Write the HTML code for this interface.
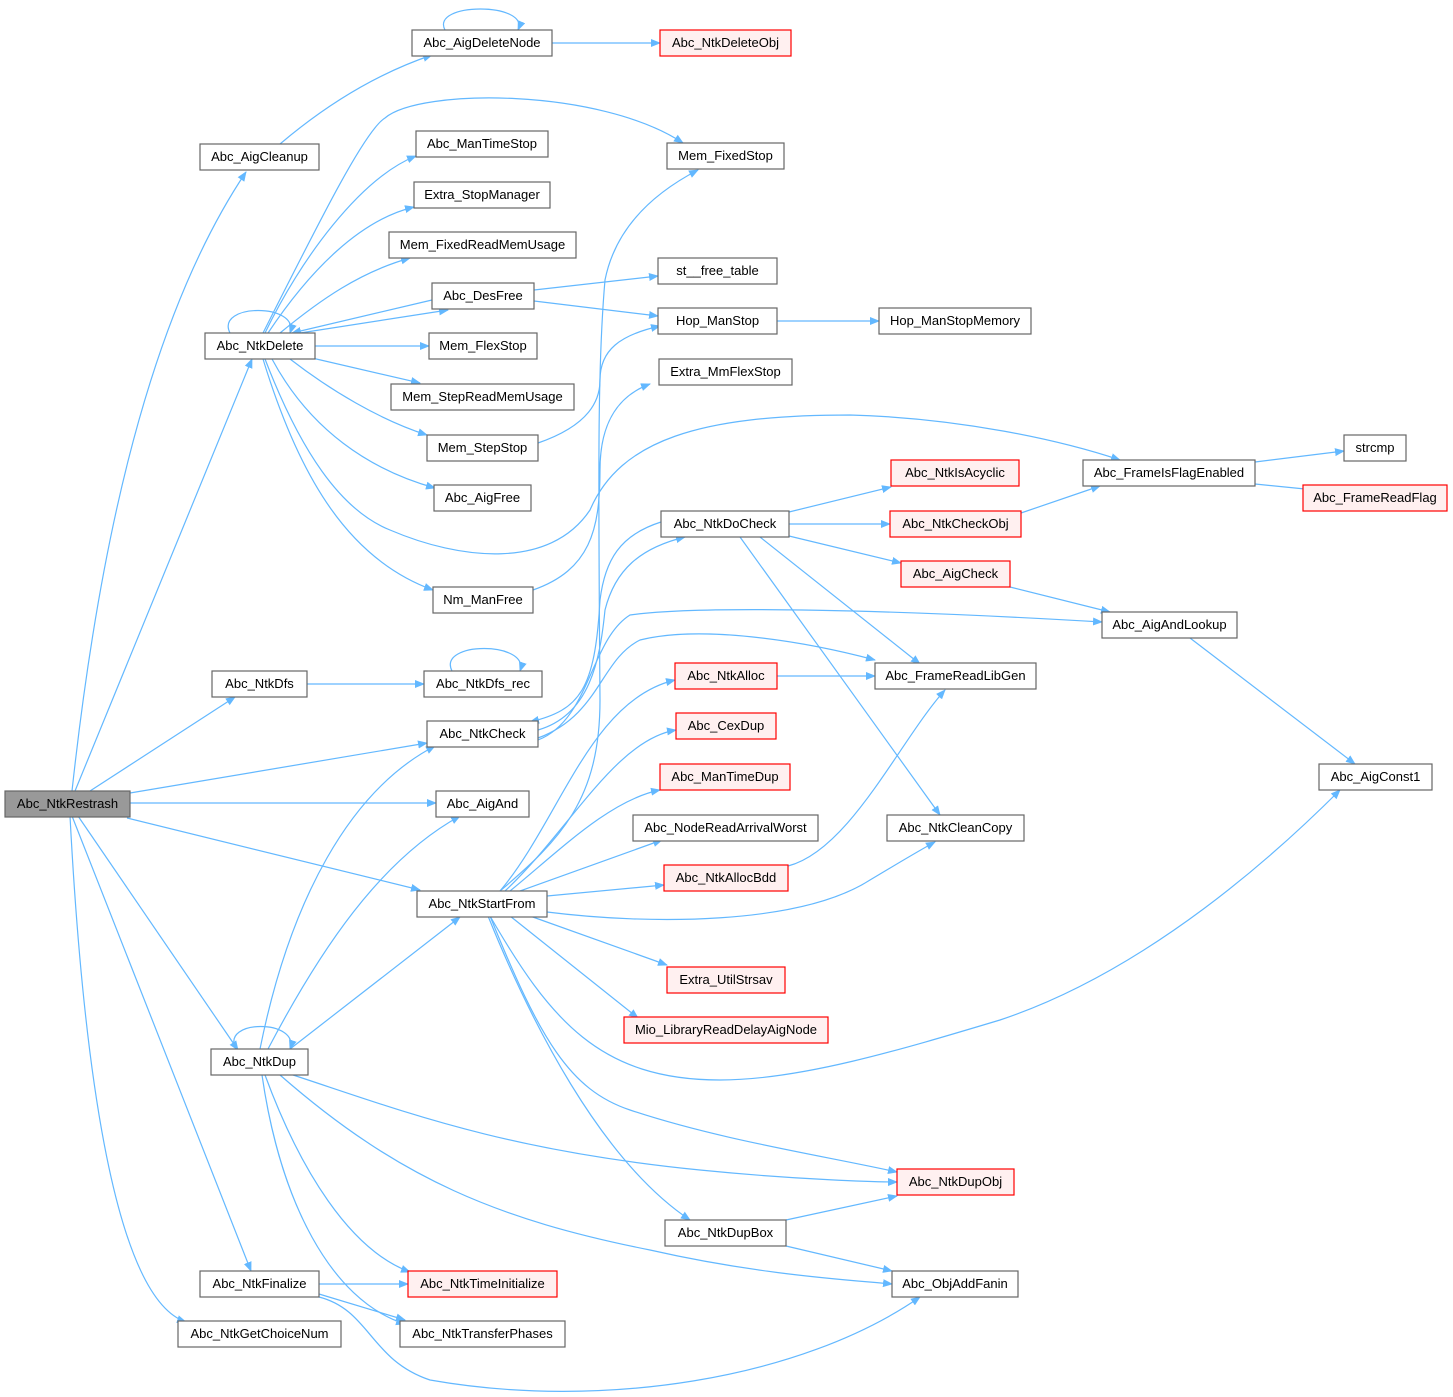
<!DOCTYPE html>
<html><head><meta charset="utf-8"><style>
html,body{margin:0;padding:0;background:#fff;}
svg{display:block;}
text{font-family:"Liberation Sans",Arial,sans-serif;font-size:13px;fill:#000;text-anchor:middle;}
.e{fill:none;stroke:#63b8ff;stroke-width:1.2;}
.n rect{fill:#fff;stroke:#666;stroke-width:1.2;}
.r rect{fill:#fff0f0;stroke:#ff0000;stroke-width:1.2;}
</style></head><body>
<svg width="1453" height="1397" viewBox="0 0 1453 1397" xmlns="http://www.w3.org/2000/svg">
<defs><marker id="a" viewBox="0 0 10 10" refX="9" refY="5" markerWidth="10" markerHeight="10" markerUnits="userSpaceOnUse" orient="auto"><path d="M0,1 L10,5 L0,9 z" fill="#63b8ff"/></marker></defs>
<g marker-end="url(#a)">
<!-- Restrash -->
<path class="e" d="M72,791 C95,580 140,330 246,172"/>
<path class="e" d="M75,791 L252,359"/>
<path class="e" d="M90,791 L235,697"/>
<path class="e" d="M130,793 L427,743"/>
<path class="e" d="M130,803 L436,803"/>
<path class="e" d="M127,818 L420,890"/>
<path class="e" d="M78,816 L238,1050"/>
<path class="e" d="M72,816 L251,1271"/>
<path class="e" d="M70,816 C85,1100 120,1300 186,1322"/>
<!-- AigCleanup / DeleteNode -->
<path class="e" d="M280,144 C320,110 370,76 432,55"/>
<path class="e" d="M445,30 C430,2 530,2 518,30"/>
<path class="e" d="M552,43 L660,43"/>
<!-- NtkDelete -->
<path class="e" d="M265,333 C300,260 360,178 416,156"/>
<path class="e" d="M268,333 C310,270 360,220 414,207"/>
<path class="e" d="M280,333 C320,300 360,272 410,258"/>
<path class="e" d="M300,333 L448,310"/>
<path class="e" d="M432,300 L292,333"/>
<path class="e" d="M263,333 C320,220 365,130 385,118 C420,88 600,88 683,143"/>
<path class="e" d="M230,333 C215,303 300,303 290,333"/>
<path class="e" d="M315,346 L429,346"/>
<path class="e" d="M312,358 L420,383"/>
<path class="e" d="M290,359 C330,390 380,420 427,435"/>
<path class="e" d="M272,359 C310,430 370,470 435,488"/>
<path class="e" d="M265,359 C300,450 340,510 390,530 C460,560 550,570 590,510 C620,440 700,415 850,415 C960,418 1060,440 1120,460"/>
<path class="e" d="M263,359 C300,480 350,560 433,590"/>
<!-- middle -->
<path class="e" d="M538,443 C590,425 600,400 600,380 C600,350 620,335 660,326"/>
<path class="e" d="M533,590 C590,570 600,530 600,470 C600,420 620,395 650,384"/>
<path class="e" d="M500,891 C560,840 600,800 600,700 C598,450 598,360 605,280 C615,230 650,195 698,170"/>
<path class="e" d="M534,290 L658,276"/>
<path class="e" d="M534,301 L658,316"/>
<path class="e" d="M777,321 L879,321"/>
<path class="e" d="M307,684 L424,684"/>
<path class="e" d="M452,671 C437,641 530,641 520,671"/>
<!-- NtkCheck -->
<path class="e" d="M661,522 C620,535 605,560 600,600 C595,690 580,710 530,722"/>
<path class="e" d="M538,730 C590,715 600,660 605,610 C615,570 640,548 685,537"/>
<path class="e" d="M538,740 C590,720 590,640 630,615 C700,605 900,610 1102,622"/>
<path class="e" d="M538,738 C600,715 600,660 640,640 C700,625 800,640 875,660"/>
<!-- StartFrom -->
<path class="e" d="M500,891 C560,820 590,700 675,680"/>
<path class="e" d="M505,891 C570,830 615,740 676,730"/>
<path class="e" d="M510,891 C560,850 610,800 660,790"/>
<path class="e" d="M520,891 L662,840"/>
<path class="e" d="M547,896 L664,885"/>
<path class="e" d="M547,912 C650,925 800,925 870,880 C900,862 920,850 935,842"/>
<path class="e" d="M530,916 L667,965"/>
<path class="e" d="M510,916 L638,1018"/>
<path class="e" d="M490,916 C550,1020 600,1080 720,1080 C800,1080 900,1050 1000,1020 C1150,970 1280,850 1340,790"/>
<path class="e" d="M490,916 C540,1040 570,1090 630,1110 C720,1140 820,1155 897,1172"/>
<path class="e" d="M488,916 C530,1020 600,1160 690,1220"/>
<path class="e" d="M786,1220 L897,1196"/>
<path class="e" d="M786,1246 L892,1271"/>
<!-- DoCheck -->
<path class="e" d="M789,512 L891,487"/>
<path class="e" d="M789,524 L890,524"/>
<path class="e" d="M789,536 L901,563"/>
<path class="e" d="M760,537 L920,664"/>
<path class="e" d="M740,537 L940,815"/>
<path class="e" d="M1021,513 L1100,486"/>
<path class="e" d="M1255,462 L1344,451"/>
<path class="e" d="M1255,484 L1315,490"/>
<path class="e" d="M1010,587 L1110,612"/>
<path class="e" d="M1190,638 L1355,764"/>
<path class="e" d="M777,676 L875,676"/>
<path class="e" d="M788,866 C850,850 900,740 945,690"/>
<!-- NtkDup -->
<path class="e" d="M236,1049 C220,1019 300,1019 290,1049"/>
<path class="e" d="M260,1049 C290,900 350,790 435,746"/>
<path class="e" d="M268,1049 C320,950 380,860 460,816"/>
<path class="e" d="M290,1049 L460,917"/>
<path class="e" d="M290,1074 C400,1110 500,1150 700,1170 C800,1180 880,1182 897,1182"/>
<path class="e" d="M280,1075 C400,1180 500,1220 650,1250 C760,1275 850,1280 892,1284"/>
<path class="e" d="M265,1075 C300,1170 350,1250 410,1272"/>
<path class="e" d="M262,1075 C280,1200 330,1300 405,1324"/>
<path class="e" d="M319,1284 L408,1284"/>
<path class="e" d="M319,1294 L405,1320"/>
<path class="e" d="M319,1297 C370,1310 370,1360 430,1380 C600,1410 800,1380 920,1297"/>
</g>
<g class="n"><rect x="5" y="791" width="125" height="26" style="fill:#999"/><text x="67.5" y="808">Abc_NtkRestrash</text></g>
<g class="n"><rect x="412" y="30" width="140" height="26"/><text x="482" y="47">Abc_AigDeleteNode</text></g>
<g class="r"><rect x="660" y="30" width="131" height="26"/><text x="725.5" y="47">Abc_NtkDeleteObj</text></g>
<g class="n"><rect x="200" y="144" width="119" height="26"/><text x="259.5" y="161">Abc_AigCleanup</text></g>
<g class="n"><rect x="416" y="131" width="132" height="26"/><text x="482" y="148">Abc_ManTimeStop</text></g>
<g class="n"><rect x="667" y="143" width="117" height="26"/><text x="725.5" y="160">Mem_FixedStop</text></g>
<g class="n"><rect x="414" y="182" width="136" height="26"/><text x="482" y="199">Extra_StopManager</text></g>
<g class="n"><rect x="389" y="232" width="187" height="26"/><text x="482.5" y="249">Mem_FixedReadMemUsage</text></g>
<g class="n"><rect x="658" y="258" width="119" height="26"/><text x="717.5" y="275">st__free_table</text></g>
<g class="n"><rect x="432" y="283" width="102" height="26"/><text x="483" y="300">Abc_DesFree</text></g>
<g class="n"><rect x="658" y="308" width="119" height="26"/><text x="717.5" y="325">Hop_ManStop</text></g>
<g class="n"><rect x="879" y="308" width="152" height="26"/><text x="955" y="325">Hop_ManStopMemory</text></g>
<g class="n"><rect x="205" y="333" width="110" height="26"/><text x="260" y="350">Abc_NtkDelete</text></g>
<g class="n"><rect x="429" y="333" width="108" height="26"/><text x="483" y="350">Mem_FlexStop</text></g>
<g class="n"><rect x="659" y="359" width="133" height="26"/><text x="725.5" y="376">Extra_MmFlexStop</text></g>
<g class="n"><rect x="391" y="384" width="183" height="26"/><text x="482.5" y="401">Mem_StepReadMemUsage</text></g>
<g class="n"><rect x="427" y="435" width="111" height="26"/><text x="482.5" y="452">Mem_StepStop</text></g>
<g class="n"><rect x="1344" y="435" width="62" height="26"/><text x="1375" y="452">strcmp</text></g>
<g class="n"><rect x="1083" y="460" width="172" height="26"/><text x="1169" y="477">Abc_FrameIsFlagEnabled</text></g>
<g class="r"><rect x="891" y="460" width="128" height="26"/><text x="955" y="477">Abc_NtkIsAcyclic</text></g>
<g class="r"><rect x="1303" y="485" width="144" height="26"/><text x="1375" y="502">Abc_FrameReadFlag</text></g>
<g class="n"><rect x="434" y="485" width="97" height="26"/><text x="482.5" y="502">Abc_AigFree</text></g>
<g class="n"><rect x="661" y="511" width="128" height="26"/><text x="725" y="528">Abc_NtkDoCheck</text></g>
<g class="r"><rect x="890" y="511" width="131" height="26"/><text x="955.5" y="528">Abc_NtkCheckObj</text></g>
<g class="r"><rect x="901" y="561" width="109" height="26"/><text x="955.5" y="578">Abc_AigCheck</text></g>
<g class="n"><rect x="433" y="587" width="100" height="26"/><text x="483" y="604">Nm_ManFree</text></g>
<g class="n"><rect x="1102" y="612" width="135" height="26"/><text x="1169.5" y="629">Abc_AigAndLookup</text></g>
<g class="n"><rect x="212" y="671" width="95" height="26"/><text x="259.5" y="688">Abc_NtkDfs</text></g>
<g class="n"><rect x="424" y="671" width="118" height="26"/><text x="483" y="688">Abc_NtkDfs_rec</text></g>
<g class="r"><rect x="675" y="663" width="102" height="26"/><text x="726" y="680">Abc_NtkAlloc</text></g>
<g class="n"><rect x="875" y="663" width="161" height="26"/><text x="955.5" y="680">Abc_FrameReadLibGen</text></g>
<g class="n"><rect x="427" y="721" width="111" height="26"/><text x="482.5" y="738">Abc_NtkCheck</text></g>
<g class="r"><rect x="676" y="713" width="100" height="26"/><text x="726" y="730">Abc_CexDup</text></g>
<g class="r"><rect x="660" y="764" width="130" height="26"/><text x="725" y="781">Abc_ManTimeDup</text></g>
<g class="n"><rect x="1319" y="764" width="113" height="26"/><text x="1375.5" y="781">Abc_AigConst1</text></g>
<g class="n"><rect x="436" y="791" width="93" height="26"/><text x="482.5" y="808">Abc_AigAnd</text></g>
<g class="n"><rect x="633" y="815" width="185" height="26"/><text x="725.5" y="832">Abc_NodeReadArrivalWorst</text></g>
<g class="n"><rect x="887" y="815" width="137" height="26"/><text x="955.5" y="832">Abc_NtkCleanCopy</text></g>
<g class="r"><rect x="664" y="865" width="124" height="26"/><text x="726" y="882">Abc_NtkAllocBdd</text></g>
<g class="n"><rect x="417" y="891" width="130" height="26"/><text x="482" y="908">Abc_NtkStartFrom</text></g>
<g class="r"><rect x="667" y="967" width="118" height="26"/><text x="726" y="984">Extra_UtilStrsav</text></g>
<g class="r"><rect x="624" y="1017" width="204" height="26"/><text x="726" y="1034">Mio_LibraryReadDelayAigNode</text></g>
<g class="n"><rect x="211" y="1049" width="97" height="26"/><text x="259.5" y="1066">Abc_NtkDup</text></g>
<g class="r"><rect x="897" y="1169" width="117" height="26"/><text x="955.5" y="1186">Abc_NtkDupObj</text></g>
<g class="n"><rect x="665" y="1220" width="121" height="26"/><text x="725.5" y="1237">Abc_NtkDupBox</text></g>
<g class="n"><rect x="200" y="1271" width="119" height="26"/><text x="259.5" y="1288">Abc_NtkFinalize</text></g>
<g class="r"><rect x="408" y="1271" width="149" height="26"/><text x="482.5" y="1288">Abc_NtkTimeInitialize</text></g>
<g class="n"><rect x="892" y="1271" width="126" height="26"/><text x="955" y="1288">Abc_ObjAddFanin</text></g>
<g class="n"><rect x="178" y="1321" width="163" height="26"/><text x="259.5" y="1338">Abc_NtkGetChoiceNum</text></g>
<g class="n"><rect x="400" y="1321" width="165" height="26"/><text x="482.5" y="1338">Abc_NtkTransferPhases</text></g>
</svg>
</body></html>
